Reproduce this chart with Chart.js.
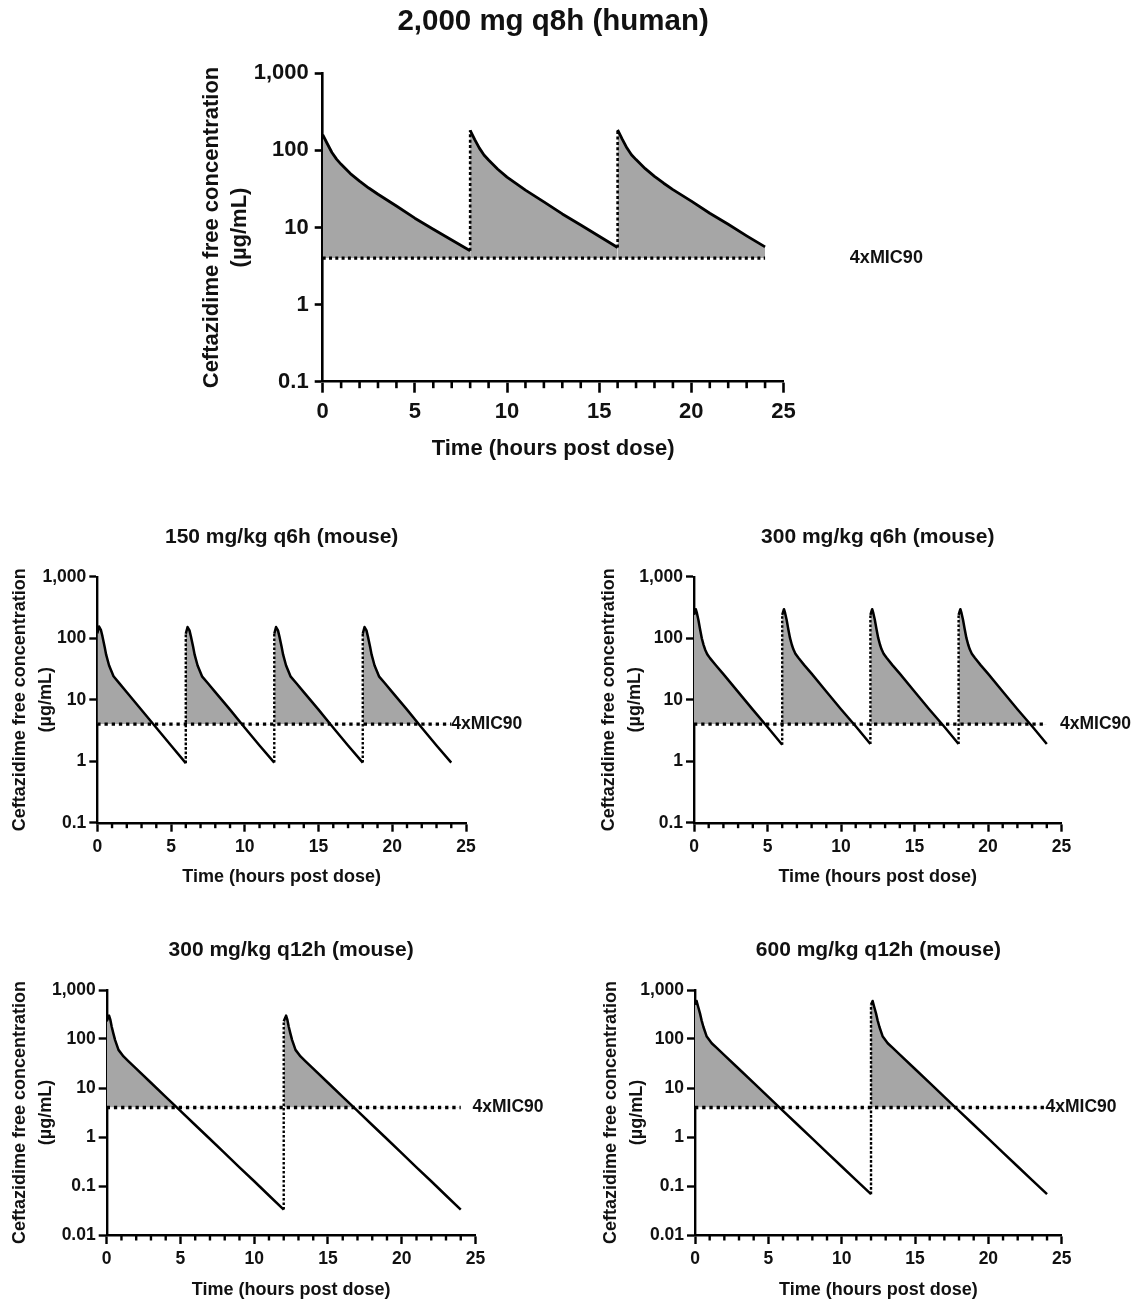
<!DOCTYPE html>
<html lang="en">
<head>
  <meta charset="UTF-8">
  <title>Ceftazidime free concentration</title>
  <script src="https://cdn.jsdelivr.net/npm/chart.js"></script>
  <style>
    html, body { margin: 0; padding: 0; background: #fff; overflow: hidden; }
    body { position: relative; width: 1147px; height: 1301px; }
    canvas.panel { position: absolute; }
  </style>
</head>
<body>
<script>
  // --- data (time in hours, free concentration in ug/mL) ---
  const humanTime = [0, 0.25, 0.5, 0.75, 1, 1.5, 2, 2.5, 3, 4, 5, 6, 7, 8,
    8, 8.25, 8.5, 8.75, 9, 9.5, 10, 10.5, 11, 12, 13, 14, 15, 16,
    16, 16.25, 16.5, 16.75, 17, 17.5, 18, 18.5, 19, 20, 21, 22, 23, 24];
  const humanConc = [160, 122, 94, 77, 66, 50, 40, 32.5, 27, 19, 13.2, 9.5, 6.9, 5.0,
    182, 138, 107, 87, 75, 57, 45, 37, 30.5, 21.5, 15, 10.8, 7.7, 5.5,
    185, 140, 108, 88, 76, 58, 46, 37.5, 31, 22, 15.3, 11, 7.8, 5.6];

  const m150q6Time = [0, 0.12, 0.25, 0.35, 0.5, 0.6, 0.8, 1.1, 1.5, 2, 3, 4, 5, 6,
    6, 6.12, 6.25, 6.35, 6.5, 6.6, 6.8, 7.1, 7.5, 8, 9, 10, 11, 12,
    12, 12.12, 12.25, 12.35, 12.5, 12.6, 12.8, 13.1, 13.5, 14, 15, 16, 17, 18,
    18, 18.12, 18.25, 18.35, 18.5, 18.6, 18.8, 19.1, 19.5, 20, 21, 22, 23, 24];
  const m150q6Conc = [120, 155, 135, 107, 72, 54, 36, 24, 18.4, 13.2, 6.8, 3.5, 1.8, 0.93,
    118, 152, 134, 106, 72, 54, 36, 24, 18.5, 13.3, 6.9, 3.5, 1.8, 0.95,
    118, 152, 134, 106, 72, 54, 36, 24, 18.5, 13.3, 6.9, 3.5, 1.8, 0.95,
    118, 152, 134, 106, 72, 54, 36, 24, 18.5, 13.3, 6.9, 3.5, 1.8, 0.95];

  const m300q6Time = [0, 0.12, 0.2, 0.3, 0.4, 0.53, 0.65, 0.76, 0.9, 1.1, 1.5, 2, 3, 4, 5, 6,
    6, 6.12, 6.2, 6.3, 6.4, 6.53, 6.65, 6.76, 6.9, 7.1, 7.5, 8, 9, 10, 11, 12,
    12, 12.12, 12.2, 12.3, 12.4, 12.53, 12.65, 12.76, 12.9, 13.1, 13.5, 14, 15, 16, 17, 18,
    18, 18.12, 18.2, 18.3, 18.4, 18.53, 18.65, 18.76, 18.9, 19.1, 19.5, 20, 21, 22, 23, 24];
  const m300q6Conc = [240, 296, 255, 198, 145, 100, 78, 65, 55, 47, 36, 26, 13.4, 6.9, 3.6, 1.85,
    240, 296, 255, 199, 146, 101, 79, 66, 56, 48, 36.5, 26.5, 13.6, 7.0, 3.7, 1.9,
    240, 296, 255, 199, 146, 101, 79, 66, 56, 48, 36.5, 26.5, 13.6, 7.0, 3.7, 1.9,
    240, 296, 255, 199, 146, 101, 79, 66, 56, 48, 36.5, 26.5, 13.6, 7.0, 3.7, 1.9];

  const m300q12Time = [0, 0.16, 0.25, 0.34, 0.45, 0.57, 0.8, 1.14, 1.5, 2, 3, 4, 5, 6, 7, 8, 9, 10, 11, 12,
    12, 12.16, 12.25, 12.34, 12.45, 12.57, 12.8, 13.14, 13.5, 14, 15, 16, 17, 18, 19, 20, 21, 22, 23, 24];
  const m300q12Conc = [230, 300, 245, 178, 130, 95, 60, 44, 34.6, 24.8, 12.8, 6.6, 3.4, 1.76, 0.91, 0.47, 0.24, 0.125, 0.064, 0.033,
    230, 300, 245, 178, 130, 95, 60, 44, 34.6, 24.8, 12.8, 6.6, 3.4, 1.76, 0.91, 0.47, 0.24, 0.125, 0.064, 0.033];

  const m600q12Time = [0, 0.11, 0.22, 0.34, 0.45, 0.57, 0.8, 1.14, 1.5, 2, 3, 4, 5, 6, 7, 8, 9, 10, 11, 12,
    12, 12.11, 12.22, 12.34, 12.45, 12.57, 12.8, 13.14, 13.5, 14, 15, 16, 17, 18, 19, 20, 21, 22, 23, 24];
  const m600q12Conc = [500, 596, 450, 333, 240, 178, 112, 82, 65, 47, 24.4, 12.7, 6.6, 3.4, 1.78, 0.93, 0.48, 0.25, 0.13, 0.068,
    500, 596, 450, 333, 240, 178, 112, 82, 65, 47, 24.4, 12.7, 6.6, 3.4, 1.78, 0.93, 0.48, 0.25, 0.13, 0.068];

  const micLevel = 4;            // 4 x MIC90 threshold
  const micLineEnd = [0, 24];    // dotted line runs over the dosing period
  const xTickValues = [0, 5, 10, 15, 20, 25];
  const yTicksHigh = [0.1, 1, 10, 100, 1000];
  const yTicksLow = [0.01, 0.1, 1, 10, 100, 1000];
  const yTitle = ['Ceftazidime free concentration', '(µg/mL)'];
  const xTitle = 'Time (hours post dose)';
  const micLabel = '4xMIC90';

  const FONT = "'Liberation Sans', Arial, Helvetica, sans-serif";
  Chart.defaults.font.family = FONT;
  Chart.defaults.color = '#111';

  // panel title centred on the plot area, minor x ticks every hour, 4xMIC90 label
  const extras = {
    id: 'extras',
    afterDraw(chart, args, o) {
      const { ctx, chartArea, scales: { x, y } } = chart;
      ctx.save();
      ctx.strokeStyle = '#000';
      ctx.lineWidth = o.tickWidth;
      for (let t = 1; t < 25; t++) {
        if (t % 5 === 0) continue;
        const px = x.getPixelForValue(t);
        ctx.beginPath();
        ctx.moveTo(px, x.top);
        ctx.lineTo(px, x.top + o.minorLen);
        ctx.stroke();
      }
      ctx.fillStyle = '#111';
      ctx.textBaseline = 'middle';
      ctx.font = 'bold ' + o.labelSize + 'px ' + FONT;
      ctx.textAlign = 'left';
      ctx.fillText(micLabel, x.getPixelForValue(o.labelX), y.getPixelForValue(micLevel));
      ctx.font = 'bold ' + o.titleSize + 'px ' + FONT;
      ctx.textAlign = 'center';
      ctx.fillText(o.title, (chartArea.left + chartArea.right) / 2, o.titleY);
      ctx.restore();
    }
  };

  function makePanel(p) {
    const cx = (p.area.left + p.area.right) / 2;
    const width = Math.round(2 * (cx - p.left));
    const height = p.height;
    const canvas = document.createElement('canvas');
    canvas.className = 'panel';
    canvas.width = width;
    canvas.height = height;
    canvas.style.left = p.left + 'px';
    canvas.style.top = p.top + 'px';
    canvas.style.width = width + 'px';
    canvas.style.height = height + 'px';
    document.body.appendChild(canvas);

    const yAxisW = p.area.left - p.left;
    const rightPad = width - (p.area.right - p.left);
    const areaTop = p.area.top - p.top;
    const xAxisH = p.top + height - p.area.bottom;
    const yTitlePad = p.yTitleX - p.left - p.axisTitleSize * p.yTitleLine / 2;
    const xTitlePad = p.top + height - p.xTitleY - p.axisTitleSize * 0.6;
    const xTickPad = p.xLabelY - p.area.bottom - p.xTickLen - p.tickSize * 0.6;
    const isDose = c => c.p0.parsed.x === c.p1.parsed.x;

    new Chart(canvas, {
      type: 'line',
      data: {
        datasets: [
          {
            label: 'Concentration',
            data: p.time.map((t, i) => ({ x: t, y: p.conc[i] })),
            borderColor: '#000',
            borderWidth: p.lineW,
            borderJoinStyle: 'round',
            pointRadius: 0,
            tension: 0,
            fill: { target: { value: micLevel }, above: '#a6a6a6', below: 'rgba(0,0,0,0)' },
            segment: {
              borderDash: c => isDose(c) ? p.doseDash : undefined,
              borderWidth: c => isDose(c) ? p.doseW : undefined
            },
            order: 1
          },
          {
            label: micLabel,
            data: micLineEnd.map(t => ({ x: t, y: micLevel })),
            borderColor: '#000',
            borderWidth: p.micW,
            borderDash: p.micDash,
            borderCapStyle: 'butt',
            pointRadius: 0,
            fill: false,
            order: 0
          }
        ]
      },
      options: {
        responsive: false,
        animation: false,
        devicePixelRatio: 1,
        layout: { padding: { left: 0, right: rightPad, top: areaTop, bottom: 0 } },
        plugins: {
          legend: { display: false },
          tooltip: { enabled: false },
          title: { display: false },
          extras: {
            minorLen: p.minorLen, tickWidth: p.axisW, labelX: p.micLabelX, labelSize: p.micLabelSize,
            title: p.title, titleSize: p.titleSize, titleY: p.titleY - p.top
          }
        },
        scales: {
          x: {
            type: 'linear',
            min: 0,
            max: 25,
            afterBuildTicks: s => { s.ticks = xTickValues.map(v => ({ value: v })); },
            afterFit: s => { s.height = xAxisH; },
            ticks: { color: '#111', font: { size: p.tickSize, weight: 'bold' }, padding: xTickPad, maxRotation: 0, autoSkip: false },
            grid: { drawOnChartArea: false, drawTicks: true, tickLength: p.xTickLen, tickWidth: p.axisW, tickColor: '#000' },
            border: { display: true, color: '#000', width: p.axisW },
            title: {
              display: true, text: xTitle, color: '#111',
              font: { size: p.axisTitleSize, weight: 'bold', lineHeight: 1.2 },
              padding: { top: 0, bottom: xTitlePad }
            }
          },
          y: {
            type: 'logarithmic',
            min: p.yTicks[0],
            max: 1000,
            afterBuildTicks: s => { s.ticks = p.yTicks.map(v => ({ value: v })); },
            afterFit: s => { s.width = yAxisW; },
            ticks: {
              color: '#111', font: { size: p.tickSize, weight: 'bold' }, padding: p.yTickPad, autoSkip: false,
              callback: v => Number(v).toLocaleString('en-US')
            },
            grid: { drawOnChartArea: false, drawTicks: true, tickLength: p.yTickLen, tickWidth: p.axisW, tickColor: '#000' },
            border: { display: true, color: '#000', width: p.axisW },
            title: {
              display: true, text: yTitle, color: '#111',
              font: { size: p.axisTitleSize, weight: 'bold', lineHeight: p.yTitleLine },
              padding: { top: yTitlePad, bottom: 0 }
            }
          }
        }
      },
      plugins: [extras]
    });
  }

  const mouseStyle = {
    height: 390, titleSize: 21, axisTitleSize: 18, yTitleLine: 1.45, tickSize: 17.5,
    xTickLen: 9, minorLen: 5.5, yTickLen: 8, yTickPad: 3, axisW: 2.4, lineW: 2.5,
    micW: 3.3, micDash: [3.3, 3.9], doseW: 2.4, doseDash: [2.6, 1.9], micLabelSize: 17.5
  };

  makePanel({
    title: '2,000 mg q8h (human)', time: humanTime, conc: humanConc, yTicks: yTicksHigh,
    left: 153, top: 0, height: 470,
    area: { left: 322.7, right: 783.5, top: 73.3, bottom: 381.7 },
    titleY: 22, titleSize: 29.5, yTitleX: 212, axisTitleSize: 22, yTitleLine: 1.27,
    xTitleY: 449, xLabelY: 412, tickSize: 22, xTickLen: 11, minorLen: 6.5, yTickLen: 8, yTickPad: 6,
    axisW: 2.6, lineW: 2.8, micW: 3.2, micDash: [3, 3.3], doseW: 2.6, doseDash: [3, 2.4],
    micLabelX: 28.6, micLabelSize: 18
  });

  makePanel(Object.assign({}, mouseStyle, {
    title: '150 mg/kg q6h (mouse)', time: m150q6Time, conc: m150q6Conc, yTicks: yTicksHigh,
    left: 0, top: 505, area: { left: 97.3, right: 466, top: 576.7, bottom: 822.7 },
    titleY: 537, yTitleX: 20, xTitleY: 876.7, xLabelY: 846.7, micLabelX: 24.0
  }));

  makePanel(Object.assign({}, mouseStyle, {
    title: '300 mg/kg q6h (mouse)', time: m300q6Time, conc: m300q6Conc, yTicks: yTicksHigh,
    left: 596, top: 505, area: { left: 694, right: 1061.5, top: 576.7, bottom: 822.7 },
    titleY: 537, yTitleX: 609, xTitleY: 876.7, xLabelY: 846.7, micLabelX: 24.9
  }));

  makePanel(Object.assign({}, mouseStyle, {
    title: '300 mg/kg q12h (mouse)', time: m300q12Time, conc: m300q12Conc, yTicks: yTicksLow,
    left: 0, top: 918, area: { left: 106.7, right: 475.5, top: 990, bottom: 1235 },
    titleY: 950, yTitleX: 20, xTitleY: 1290, xLabelY: 1259, micLabelX: 24.8
  }));

  makePanel(Object.assign({}, mouseStyle, {
    title: '600 mg/kg q12h (mouse)', time: m600q12Time, conc: m600q12Conc, yTicks: yTicksLow,
    left: 598, top: 918, area: { left: 695, right: 1061.7, top: 990, bottom: 1235 },
    titleY: 950, yTitleX: 611, xTitleY: 1290, xLabelY: 1259, micLabelX: 23.9
  }));
</script>
</body>
</html>
